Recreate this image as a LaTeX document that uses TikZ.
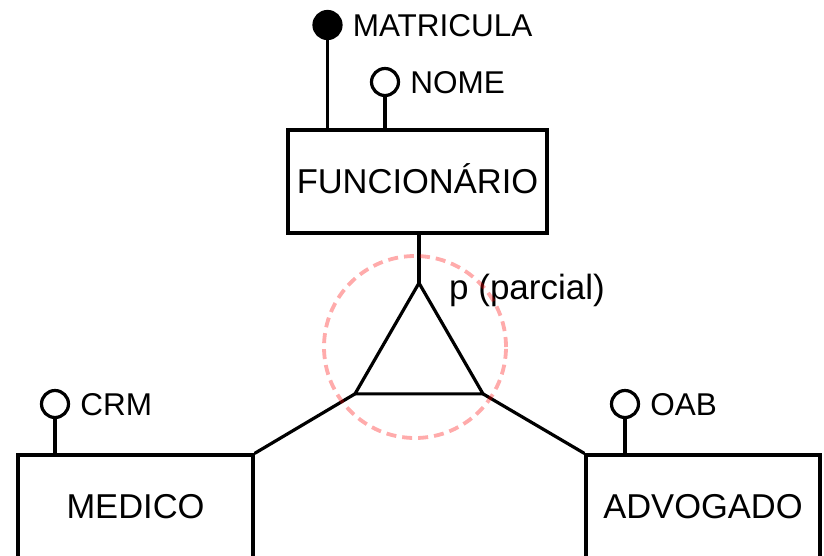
\documentclass[tikz,border=0pt]{standalone}
\usepackage{fontspec}
\setmainfont{Liberation Sans}
\usepackage{tikz}
\usetikzlibrary{shapes.geometric, positioning}
\tikzstyle{entity} = [rectangle, draw=black, line width=3.2pt, minimum height=103pt, inner sep=0pt, text height=24.5pt, text depth=0pt, font=\fontsize{34.5}{40}\selectfont]
\tikzstyle{attr} = [circle, draw=black, line width=3.2pt, fill=white, minimum size=27pt, inner sep=0pt]
\tikzstyle{keyattr} = [attr, fill=black]
\tikzstyle{attrname} = [inner sep=0pt, text height=22.5pt, text depth=0pt, font=\fontsize{31.5}{36}\selectfont]
\tikzstyle{link} = [line width=3.2pt]
\tikzstyle{ring} = [circle, draw=red, draw opacity=0.33, line width=3.8pt, dash pattern=on 10pt off 6pt, inner sep=0pt]

\begin{document}
\begin{tikzpicture}[x=1pt,y=-1pt]
    \clip (0,0) rectangle (824,555);
    % entidades
    \node[entity, minimum width=259pt] (func) at (417.5,181.5) {FUNCIONÁRIO};
    \node[entity, minimum width=235pt] (medico) at (135.5,506.5) {MEDICO};
    \node[entity, minimum width=234pt] (advogado) at (703,506.5) {ADVOGADO};
    % especializacao
    \node[regular polygon, regular polygon sides=3, minimum size=147.8pt, inner sep=0pt, outer sep=0pt] (isa) at (419,356.9) {};
    \draw[link, line join=round] (isa.corner 1) -- (isa.corner 2) -- (isa.corner 3) -- cycle;
    \draw[link] (isa.corner 1) -- (isa.corner 1 |- func.south);
    \draw[link] (isa.corner 2) -- (medico.north east);
    \draw[link] (isa.corner 3) -- (advogado.north west);
    \node[anchor=base west, inner sep=0pt, font=\fontsize{35}{40}\selectfont] (tipo) at (449,299) {p (parcial)};
    % atributos
    \node[keyattr] (matricula) at (327.5,25) {};
    \node[attr] (nome) at (385,82) {};
    \node[attr] (crm) at (55,404) {};
    \node[attr] (oab) at (625,404) {};
    \draw[link] (matricula) -- (matricula |- func.north);
    \draw[link] (nome) -- (nome |- func.north);
    \draw[link] (crm) -- (crm |- medico.north);
    \draw[link] (oab) -- (oab |- advogado.north);
    \node[attrname, right=10pt of matricula] (matriculaname) {MATRICULA};
    \node[attrname, right=10pt of nome] (nomename) {NOME};
    \node[attrname, right=10pt of crm] (crmname) {CRM};
    \node[attrname, right=10pt of oab] (oabname) {OAB};
    % marcacao
    \node[ring, minimum size=182pt] (marca) at (415,347) {};
\end{tikzpicture}
\end{document}
